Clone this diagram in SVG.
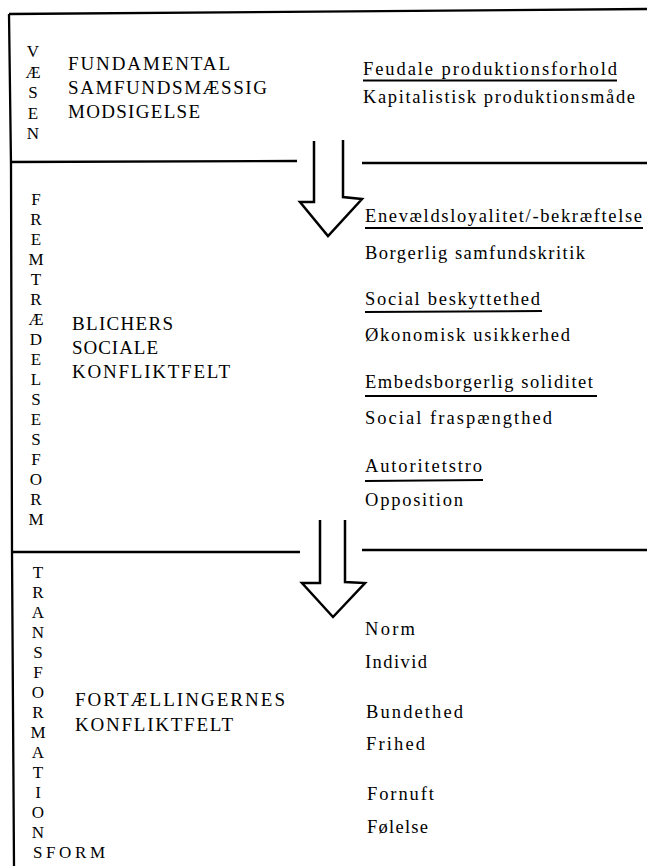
<svg xmlns="http://www.w3.org/2000/svg" width="647" height="866" viewBox="0 0 647 866">
<style>
  .ln { stroke: #000; stroke-width: 2.3; fill: none; stroke-linecap: butt; }
  .ul { stroke: #000; stroke-width: 2.1; fill: none; }
  .arrow { stroke: #000; stroke-width: 2.5; fill: none; stroke-linejoin: miter; }
  text { font-family: "Liberation Serif", "Times New Roman", serif; fill: #000; }
  .col { font-size: 17px; text-anchor: middle; }
  .cap { font-size: 19px; }
  .item { font-size: 18.5px; }
</style>
<rect width="647" height="866" fill="#fff"/>
<g id="frame">
  <polyline class="ln" points="9,14 647,9"/>
  <polyline class="ln" points="9,14 11,165 12,552 14,866"/>
  <line class="ln" x1="10" y1="162" x2="297" y2="161"/>
  <line class="ln" x1="362" y1="163" x2="647" y2="163"/>
  <line class="ln" x1="13" y1="552" x2="300" y2="552"/>
  <line class="ln" x1="362" y1="550" x2="647" y2="550"/>
</g>
<g id="vaesen">
  <text class="col" x="33" y="57">V</text>
  <text class="col" x="33" y="77.5">Æ</text>
  <text class="col" x="33" y="98">S</text>
  <text class="col" x="33" y="118.5">E</text>
  <text class="col" x="33" y="139">N</text>
  <text class="cap" x="68" y="70" textLength="162" lengthAdjust="spacing">FUNDAMENTAL</text>
  <text class="cap" x="68" y="94" textLength="199" lengthAdjust="spacing">SAMFUNDSMÆSSIG</text>
  <text class="cap" x="68" y="118" textLength="132" lengthAdjust="spacing">MODSIGELSE</text>
  <text class="item" x="363" y="75" textLength="254" lengthAdjust="spacing">Feudale produktionsforhold</text>
  <line class="ul" x1="363" y1="80.5" x2="617" y2="80.5"/>
  <text class="item" x="363" y="103" textLength="272" lengthAdjust="spacing">Kapitalistisk produktionsmåde</text>
</g>
<g id="fremtraedelsesform">
  <text class="col" x="36" y="205">F</text>
  <text class="col" x="36" y="225">R</text>
  <text class="col" x="36" y="245">E</text>
  <text class="col" x="36" y="265">M</text>
  <text class="col" x="36" y="285">T</text>
  <text class="col" x="36" y="305">R</text>
  <text class="col" x="36" y="325">Æ</text>
  <text class="col" x="36" y="345">D</text>
  <text class="col" x="36" y="365">E</text>
  <text class="col" x="36" y="385">L</text>
  <text class="col" x="36" y="405">S</text>
  <text class="col" x="36" y="425">E</text>
  <text class="col" x="36" y="445">S</text>
  <text class="col" x="36" y="465">F</text>
  <text class="col" x="36" y="485">O</text>
  <text class="col" x="36" y="505">R</text>
  <text class="col" x="36" y="525">M</text>
  <text class="cap" x="72" y="330" textLength="101" lengthAdjust="spacing">BLICHERS</text>
  <text class="cap" x="72" y="354" textLength="86" lengthAdjust="spacing">SOCIALE</text>
  <text class="cap" x="72" y="378" textLength="158" lengthAdjust="spacing">KONFLIKTFELT</text>
  <text class="item" x="365" y="222" textLength="277" lengthAdjust="spacing">Enevældsloyalitet/-bekræftelse</text>
  <line class="ul" x1="365" y1="228" x2="643" y2="228"/>
  <text class="item" x="365" y="259" textLength="220" lengthAdjust="spacing">Borgerlig samfundskritik</text>
  <text class="item" x="365" y="305" textLength="175" lengthAdjust="spacing">Social beskyttethed</text>
  <line class="ul" x1="365" y1="312" x2="542" y2="311"/>
  <text class="item" x="365" y="341" textLength="205" lengthAdjust="spacing">Økonomisk usikkerhed</text>
  <text class="item" x="365" y="388" textLength="228" lengthAdjust="spacing">Embedsborgerlig soliditet</text>
  <line class="ul" x1="365" y1="396" x2="597" y2="396"/>
  <text class="item" x="365" y="424" textLength="187" lengthAdjust="spacing">Social fraspængthed</text>
  <text class="item" x="365" y="472" textLength="117" lengthAdjust="spacing">Autoritetstro</text>
  <line class="ul" x1="365" y1="481" x2="483" y2="480"/>
  <text class="item" x="365" y="506" textLength="98" lengthAdjust="spacing">Opposition</text>
</g>
<g id="transformationsform">
  <text class="col" x="38" y="578">T</text>
  <text class="col" x="38" y="598">R</text>
  <text class="col" x="38" y="618">A</text>
  <text class="col" x="38" y="638">N</text>
  <text class="col" x="38" y="658">S</text>
  <text class="col" x="38" y="678">F</text>
  <text class="col" x="38" y="698">O</text>
  <text class="col" x="38" y="718">R</text>
  <text class="col" x="38" y="738">M</text>
  <text class="col" x="38" y="758">A</text>
  <text class="col" x="38" y="778">T</text>
  <text class="col" x="38" y="798">I</text>
  <text class="col" x="38" y="818">O</text>
  <text class="col" x="38" y="838">N</text>
  <text font-size="17" x="33" y="858" textLength="72" lengthAdjust="spacing">SFORM</text>
  <text class="cap" x="75" y="706" textLength="210" lengthAdjust="spacing">FORTÆLLINGERNES</text>
  <text class="cap" x="75" y="731" textLength="158" lengthAdjust="spacing">KONFLIKTFELT</text>
  <text class="item" x="365" y="635" textLength="50" lengthAdjust="spacing">Norm</text>
  <text class="item" x="365" y="668" textLength="62" lengthAdjust="spacing">Individ</text>
  <text class="item" x="366" y="718" textLength="97" lengthAdjust="spacing">Bundethed</text>
  <text class="item" x="366" y="750" textLength="59" lengthAdjust="spacing">Frihed</text>
  <text class="item" x="367" y="800" textLength="67" lengthAdjust="spacing">Fornuft</text>
  <text class="item" x="367" y="833" textLength="61" lengthAdjust="spacing">Følelse</text>
</g>
<g id="connectors">
  <polyline class="arrow" points="314,141 314,202 300,202 328,236 362,199 343,197 343,140"/>
  <polyline class="arrow" points="320,520 320,583 302,583 333,617 365,583 345,582 345,520"/>
</g>
</svg>
